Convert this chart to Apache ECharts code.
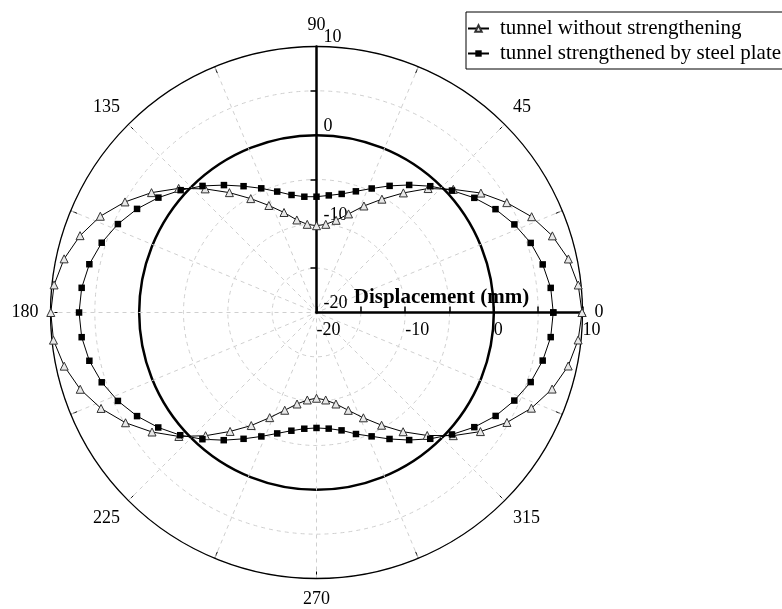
<!DOCTYPE html>
<html><head><meta charset="utf-8">
<script src="https://cdn.jsdelivr.net/npm/echarts@6/dist/echarts.min.js"></script>
<style>html,body{margin:0;padding:0;background:#fff}#c{width:782px;height:609px}</style>
</head><body><div id="c"></div>
<script>
const angles = [0,6,12,18,24,30,36,42,48,54,60,66,72,78,84,90,96,102,108,114,120,126,132,138,144,150,156,162,168,174,
  180,186,192,198,204,210,216,222,228,234,240,246,252,258,264,270,276,282,288,294,300,306,312,318,324,330,336,342,348,354];
const withoutStrengthening = [9.95,9.68,9.04,7.97,6.56,4.78,2.92,0.76,-1.19,-3.33,-5.24,-6.85,-8.31,-9.37,-10.0,-10.21,-10.0,-9.33,-8.14,-6.79,
  -5.17,-3.29,-1.24,0.92,3.0,4.94,6.69,8.04,9.10,9.76,
  9.97,9.83,9.09,8.02,6.60,4.87,2.93,0.89,-1.30,-3.42,-5.28,-7.02,-8.41,-9.45,-10.08,-10.33,-10.08,-9.45,-8.40,-7.00,
  -5.32,-3.38,-1.34,0.76,2.85,4.80,6.53,7.94,9.02,9.67];
const steelPlate = [6.70,6.56,6.08,5.40,4.43,3.31,2.00,0.56,-0.83,-2.22,-3.51,-4.69,-5.63,-6.33,-6.72,-6.94,-6.87,-6.45,-5.66,-4.67,
  -3.55,-2.24,-0.79,0.62,2.04,3.37,4.52,5.47,6.19,6.63,
  6.78,6.63,6.19,5.47,4.52,3.37,2.06,0.68,-0.77,-2.20,-3.55,-4.70,-5.66,-6.37,-6.82,-6.98,-6.83,-6.41,-5.59,-4.71,
  -3.53,-2.22,-0.83,0.56,2.00,3.33,4.42,5.40,6.08,6.56];
const seriesNames = ['tunnel without strengthening', 'tunnel strengthened by steel plate'];
const radiusMin = -20, radiusMax = 10, radiusStep = 10;
const angleMin = 0, angleMax = 360, angleStep = 45;

const FONT = 'Liberation Serif';
const GRID = {color:'#cfcfcf', type:[4,4], width:1};
const T = 'rgba(0,0,0,0)';
function closed(vals){
  const d = angles.map((a,i)=>[vals[i], a]);
  d.push([vals[0], angleMax]);
  return d;
}
const chart = echarts.init(document.getElementById('c'), null, {renderer:'canvas'});
const C = [316.5, 312.5], R = 266;
chart.setOption({
  animation:false,
  textStyle:{fontFamily:FONT},
  polar:[{center:C, radius:R},{center:C, radius:R},{center:C, radius:R}],
  angleAxis:[
    {polarIndex:0, type:'value', min:angleMin, max:angleMax, interval:angleStep, startAngle:0, clockwise:false,
     axisLine:{lineStyle:{color:'#000', width:1.3}},
     axisTick:{inside:true, length:7, lineStyle:{color:'#000', width:1}},
     minorTick:{show:true, splitNumber:2, length:7, lineStyle:{color:'#000', width:1}},
     axisLabel:{margin:12, fontSize:18, color:'#000', fontFamily:FONT},
     splitLine:{show:true, lineStyle:GRID},
     minorSplitLine:{show:true, lineStyle:GRID}},
    {polarIndex:1, type:'value', min:angleMin, max:angleMax, startAngle:90, clockwise:false, show:false},
    {polarIndex:2, type:'value', min:angleMin, max:angleMax, startAngle:0, clockwise:false, show:false}
  ],
  radiusAxis:[
    {polarIndex:0, type:'value', min:radiusMin, max:radiusMax, interval:radiusStep,
     axisLine:{lineStyle:{color:'#000', width:2.5}},
     axisTick:{inside:true, length:6, lineStyle:{color:'#000', width:1.5}},
     minorTick:{show:false, splitNumber:2},
     axisLabel:{align:'left', verticalAlign:'top', margin:-9, fontSize:18, color:'#000', fontFamily:FONT},
     splitLine:{show:true, lineStyle:GRID},
     minorSplitLine:{show:true, lineStyle:GRID},
     name:'Displacement (mm)', nameLocation:'middle', nameGap:-25, nameMoveOverlap:false,
     nameTextStyle:{fontSize:21, fontWeight:'bold', fontFamily:FONT, color:'#000', padding:[0,16,0,0]}},
    {polarIndex:1, type:'value', min:radiusMin, max:radiusMax, interval:radiusStep,
     axisLine:{lineStyle:{color:'#000', width:2.5}},
     axisTick:{show:false, inside:true},
     minorTick:{show:true, splitNumber:2, length:6, lineStyle:{color:'#000', width:1.5}},
     axisLabel:{align:'left', verticalAlign:'bottom', margin:-7, fontSize:18, color:'#000', fontFamily:FONT},
     splitLine:{show:true, lineStyle:{color:[T,T,'#000',T], width:2.5}}},
    {polarIndex:2, type:'value', min:radiusMin, max:radiusMax, interval:radiusStep,
     axisLine:{show:false}, axisTick:{show:false, inside:false},
     minorTick:{show:true, splitNumber:2, length:6, lineStyle:{color:'#000', width:1.5}},
     axisLabel:{show:false}, splitLine:{show:false}}
  ],
  legend:{orient:'vertical', left:466, top:12, itemWidth:21, itemHeight:8, itemGap:4,
    padding:[6,30,5,1], borderColor:'#000', borderWidth:1,
    textStyle:{fontSize:21, fontFamily:FONT, color:'#000', padding:[0,0,0,6]}, data:seriesNames},
  series:[
    {type:'line', name:seriesNames[0], coordinateSystem:'polar', polarIndex:0, data:closed(withoutStrengthening),
     symbol:'triangle', symbolSize:8, itemStyle:{color:'#e8e8e8', borderColor:'#333', borderWidth:1},
     lineStyle:{color:'#000', width:1}, z:5},
    {type:'line', name:seriesNames[1], coordinateSystem:'polar', polarIndex:0, data:closed(steelPlate),
     symbol:'rect', symbolSize:6.5, itemStyle:{color:'#000'},
     lineStyle:{color:'#000', width:1}, z:5}
  ]
});
</script></body></html>
